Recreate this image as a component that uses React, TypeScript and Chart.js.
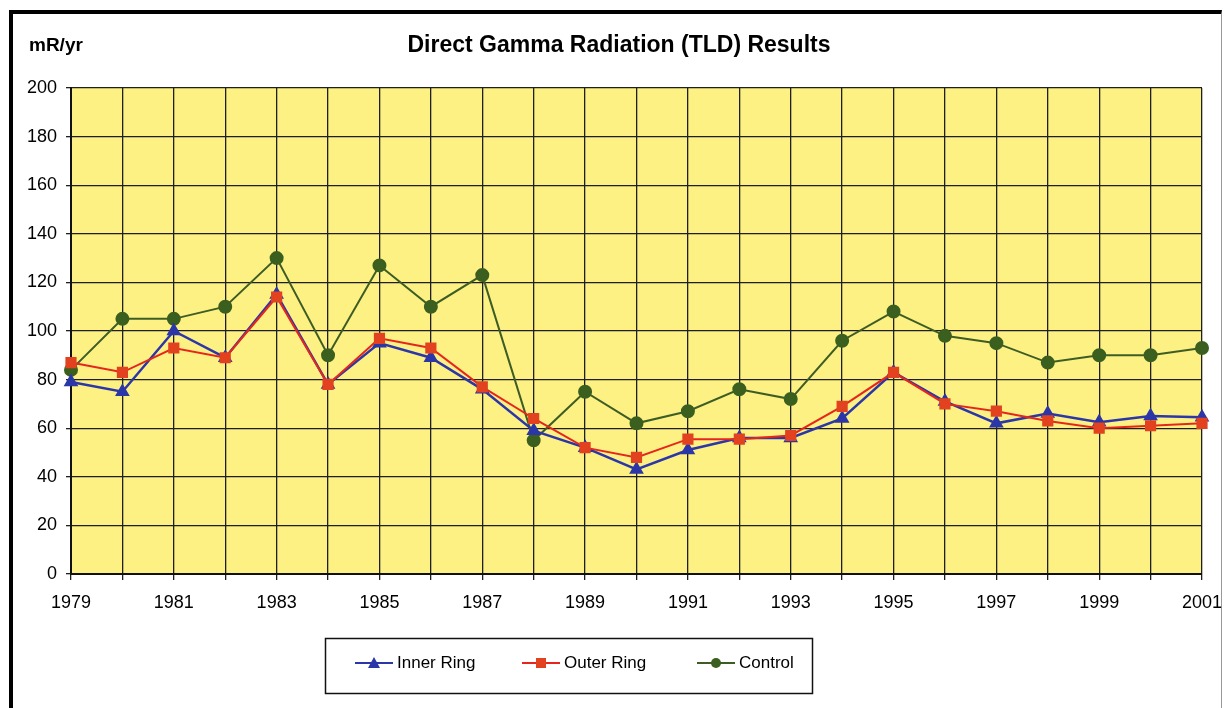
import React, { useEffect, useRef } from "react";
import { Chart, registerables } from "chart.js";

Chart.register(...registerables);

const years = [
  "1979", "1980", "1981", "1982", "1983", "1984", "1985", "1986", "1987", "1988", "1989", "1990",
  "1991", "1992", "1993", "1994", "1995", "1996", "1997", "1998", "1999", "2000", "2001",
];
const innerRing = [79, 75, 100, 89, 115, 78, 95, 89, 76, 59, 52, 43, 51, 56, 56, 64, 83, 71, 62, 66, 62.5, 65, 64.5];
const outerRing = [87, 83, 93, 89, 114, 78, 97, 93, 77, 64, 52, 48, 55.5, 55.5, 57, 69, 83, 70, 67, 63, 60, 61, 62];
const control = [84, 105, 105, 110, 130, 90, 127, 110, 123, 55, 75, 62, 67, 76, 72, 96, 108, 98, 95, 87, 90, 90, 93];
const yTicks = [0, 20, 40, 60, 80, 100, 120, 140, 160, 180, 200];

const FONT = "'Liberation Sans', Arial, Helvetica, sans-serif";
const BLUE = "#2b36a8";
const RED = "#e6261c";
const RED_FILL = "#e2421f";
const GREEN_LINE = "#3e5d25";
const GREEN_FILL = "#3b5f1e";

const decorPlugin = {
  id: "decor",
  beforeDraw(chart: any) {
    const { ctx, chartArea } = chart;
    ctx.save();
    ctx.fillStyle = "#fdf184";
    ctx.fillRect(chartArea.left, chartArea.top, chartArea.right - chartArea.left, chartArea.bottom - chartArea.top);
    ctx.restore();
  },
  afterDraw(chart: any) {
    const { ctx } = chart;
    ctx.save();
    ctx.fillStyle = "#000";
    ctx.textBaseline = "middle";
    ctx.font = `bold 23px ${FONT}`;
    ctx.textAlign = "center";
    ctx.fillText("Direct Gamma Radiation (TLD) Results", 619, 46);
    ctx.font = `bold 19px ${FONT}`;
    ctx.textAlign = "left";
    ctx.fillText("mR/yr", 29, 46);

    // legend
    ctx.strokeStyle = "#111";
    ctx.lineWidth = 1.5;
    ctx.strokeRect(325.5, 638.5, 487, 55);
    const y = 663;
    const items = [
      { x: 355, label: "Inner Ring", color: BLUE, fill: BLUE, shape: "tri" },
      { x: 522, label: "Outer Ring", color: RED, fill: RED_FILL, shape: "rect" },
      { x: 697, label: "Control", color: GREEN_LINE, fill: GREEN_FILL, shape: "circ" },
    ];
    ctx.font = `17px ${FONT}`;
    for (const it of items) {
      ctx.strokeStyle = it.color;
      ctx.lineWidth = 2;
      ctx.beginPath();
      ctx.moveTo(it.x, y);
      ctx.lineTo(it.x + 38, y);
      ctx.stroke();
      const cx = it.x + 19;
      ctx.fillStyle = it.fill;
      ctx.beginPath();
      if (it.shape === "tri") {
        ctx.moveTo(cx, y - 6);
        ctx.lineTo(cx + 6, y + 5);
        ctx.lineTo(cx - 6, y + 5);
        ctx.closePath();
      } else if (it.shape === "rect") {
        ctx.rect(cx - 5, y - 5, 10, 10);
      } else {
        ctx.arc(cx, y, 5, 0, Math.PI * 2);
      }
      ctx.fill();
      ctx.fillStyle = "#000";
      ctx.textAlign = "left";
      ctx.fillText(it.label, it.x + 42, y);
    }
    ctx.restore();
  },
};

export default function App() {
  const ref = useRef<HTMLCanvasElement | null>(null);
  useEffect(() => {
    if (!ref.current) return;
    const chart = new Chart(ref.current, {
      type: "line",
      data: {
        labels: years,
        datasets: [
          {
            label: "Inner Ring",
            data: innerRing,
            borderColor: BLUE,
            backgroundColor: BLUE,
            pointBackgroundColor: BLUE,
            pointBorderColor: BLUE,
            borderWidth: 2.5,
            pointStyle: "triangle",
            pointRadius: 6,
            order: 1,
          },
          {
            label: "Outer Ring",
            data: outerRing,
            borderColor: RED,
            backgroundColor: RED_FILL,
            pointBackgroundColor: RED_FILL,
            pointBorderColor: RED_FILL,
            borderWidth: 2,
            pointStyle: "rect",
            pointRadius: 6.5,
            order: 0,
          },
          {
            label: "Control",
            data: control,
            borderColor: GREEN_LINE,
            backgroundColor: GREEN_FILL,
            pointBackgroundColor: GREEN_FILL,
            pointBorderColor: GREEN_FILL,
            borderWidth: 2,
            pointStyle: "circle",
            pointRadius: 6,
            order: 2,
          },
        ],
      },
      options: {
        animation: false,
        responsive: false,
        maintainAspectRatio: false,
        layout: { padding: { top: 88, right: 23, left: 0, bottom: 0 } },
        plugins: { legend: { display: false }, title: { display: false }, tooltip: { enabled: false } },
        scales: {
          x: {
            afterFit: (s: any) => { s.height = 134; s.paddingLeft = 0; s.paddingRight = 0; },
            grid: { color: "#1f1f1f", lineWidth: 1.3, tickLength: 6, drawTicks: true, offset: false },
            border: { color: "#111", width: 2 },
            offset: false,
            ticks: {
              autoSkip: false,
              maxRotation: 0,
              padding: 12,
              color: "#000",
              font: { family: FONT, size: 18 },
              callback: (_v: any, i: number) => (i % 2 === 0 ? years[i] : ""),
            },
          },
          y: {
            min: 0,
            max: 200,
            afterFit: (s: any) => { s.width = 71; s.paddingTop = 0; s.paddingBottom = 0; },
            afterBuildTicks: (s: any) => { s.ticks = yTicks.map((v) => ({ value: v })); },
            grid: { color: "#1f1f1f", lineWidth: 1.3, tickLength: 5, drawTicks: true },
            border: { color: "#111", width: 2 },
            ticks: {
              padding: 9,
              color: "#000",
              font: { family: FONT, size: 18 },
            },
          },
        },
      },
      plugins: [decorPlugin],
    } as any);
    return () => chart.destroy();
  }, []);

  return (
    <div style={{ position: "absolute", left: 0, top: 0, width: 1225, height: 708, background: "#fff", overflow: "hidden" }}>
      <div
        style={{
          position: "absolute",
          left: 9,
          top: 10,
          width: 1208,
          height: 720,
          borderLeft: "4px solid #000",
          borderTop: "4px solid #000",
          borderRight: "1px solid #999",
        }}
      />
      <canvas ref={ref} width={1225} height={708} style={{ position: "absolute", left: 0, top: 0 }} />
    </div>
  );
}
